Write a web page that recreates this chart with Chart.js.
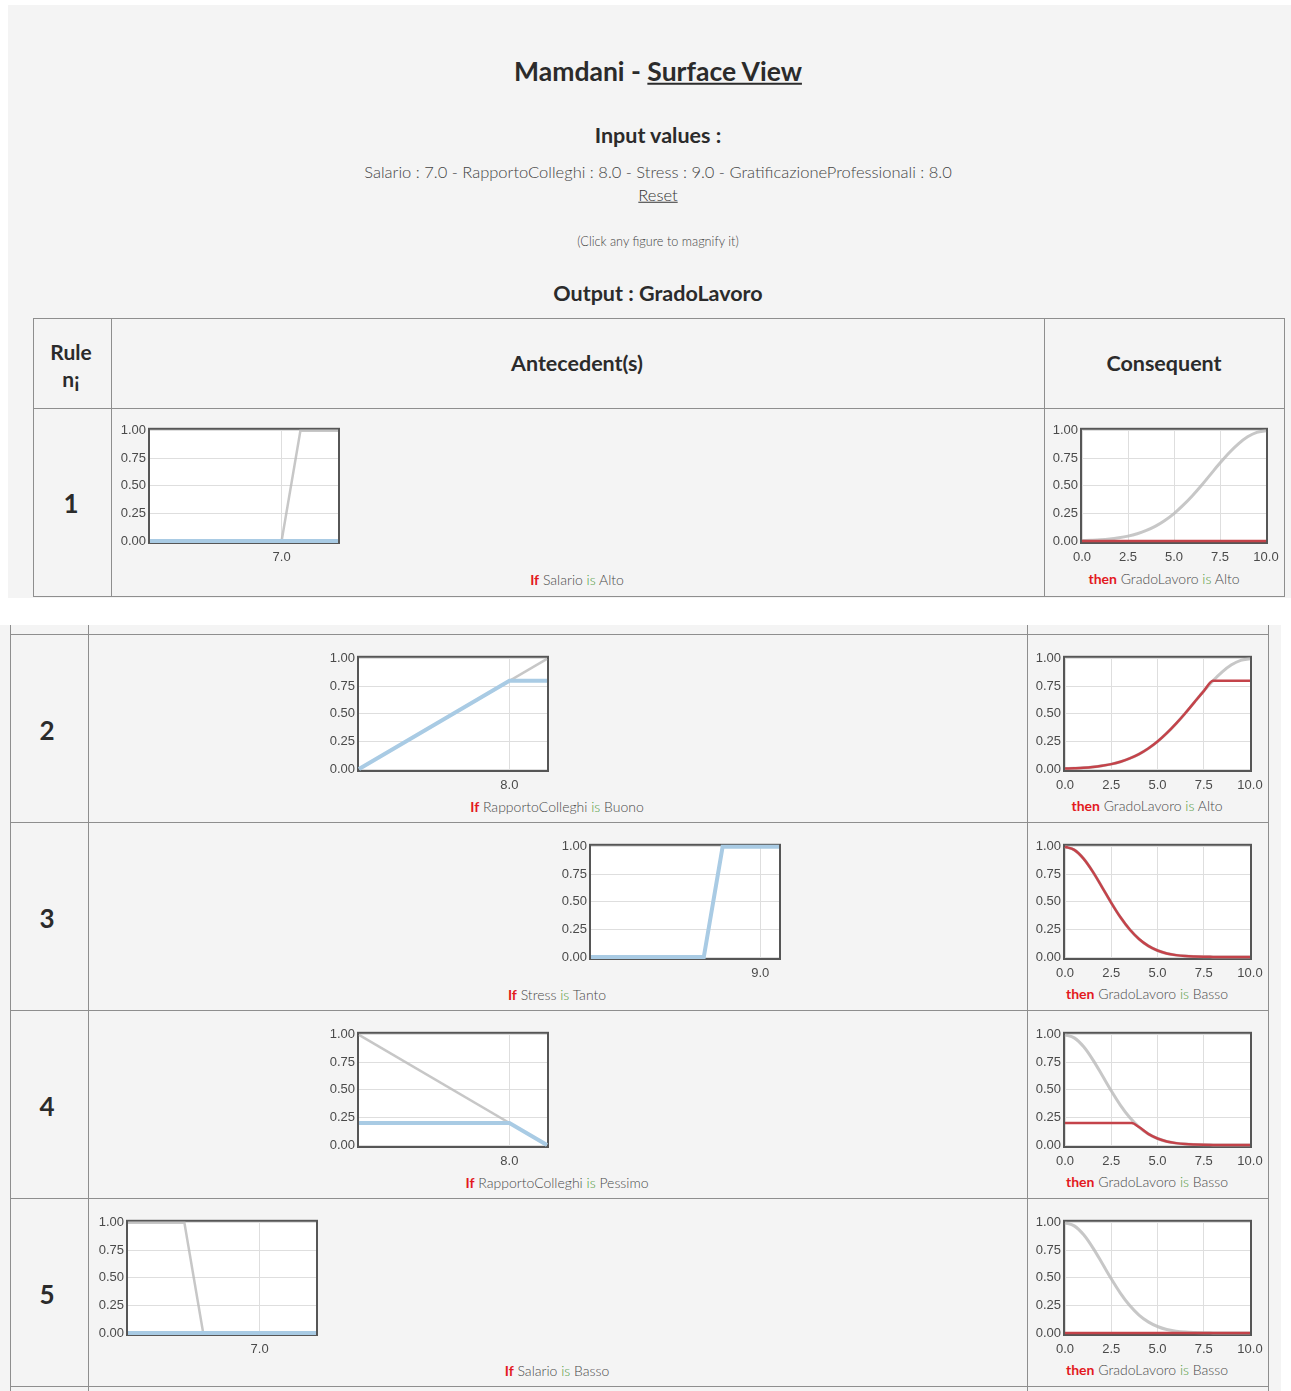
<!DOCTYPE html>
<html>
<head>
<meta charset="utf-8">
<script src="https://cdn.jsdelivr.net/npm/chart.js@4.4.1/dist/chart.umd.min.js"></script>
<style>
  html, body { margin: 0; padding: 0; background: #fff; }
  body { width: 1291px; height: 1391px; position: relative; overflow: hidden;
         font-family: Lato, "Open Sans", sans-serif; color: #333; }
  .panel { position: absolute; background: #f4f4f4; }
  .hl { position: absolute; height: 1px; background: #8e8e8e; }
  .vl { position: absolute; width: 1px; background: #8e8e8e; }
  .t { position: absolute; white-space: nowrap; line-height: 1; transform: translate(-50%, -50%); }
  .cap { font-size: 14px; color: #4a4a4a; font-weight: 300; }
  .cap .k { color: #e3191e; font-weight: 700; }
  .cap .is { color: #4f9a3c; }
  .cw { position: absolute; }
</style>
</head>
<body>
<div class="panel" style="left:8px;top:5px;width:1283px;height:593px"></div>
<div class="panel" style="left:0;top:625px;width:1281px;height:766px"></div>
<div id="page"></div>
<script>
// ---- dati ----
const inputNames = ['Salario', 'RapportoColleghi', 'Stress', 'GratificazioneProfessionali'];
const inputValues = [7.0, 8.0, 9.0, 8.0];

const yTicks = [0, 0.25, 0.5, 0.75, 1];
const consTicks = [0, 2.5, 5, 7.5, 10];

// funzioni di appartenenza degli antecedenti (punti spezzata)
const salarioAltoX = [0, 7, 8, 10],  salarioAltoY = [0, 0, 1, 1];
const salarioBassoX = [0, 3, 4, 10], salarioBassoY = [1, 1, 0, 0];
const buonoX = [0, 10],   buonoY = [0, 1];
const pessimoX = [0, 10], pessimoY = [1, 0];
const tantoX = [0, 6, 7, 10], tantoY = [0, 0, 1, 1];

// attivazioni (linea azzurra)
const act1X = [0, 10],        act1Y = [0, 0];
const act2X = [0, 8, 10],     act2Y = [0, 0.8, 0.8];
const act3X = [0, 6, 7, 10],  act3Y = [0, 0, 1, 1];
const act4X = [0, 8, 10],     act4Y = [0.2, 0.2, 0];
const act5X = [0, 10],        act5Y = [0, 0];

// conseguente GradoLavoro
const consX = [0, 0.5, 1, 1.5, 2, 2.5, 3, 3.5, 4, 4.5, 5, 5.5, 6, 6.5, 7, 7.5, 8, 8.5, 9, 9.5, 10];
const altoY = [0.004, 0.007, 0.011, 0.018, 0.029, 0.044, 0.066, 0.096, 0.135, 0.186, 0.249,
               0.325, 0.411, 0.506, 0.607, 0.707, 0.801, 0.882, 0.946, 0.986, 1.0];
const bassoY = [1.0, 0.972, 0.893, 0.775, 0.635, 0.492, 0.360, 0.249, 0.163, 0.101, 0.059,
                0.032, 0.017, 0.008, 0.004, 0.002, 0.001, 0, 0, 0, 0];

// uscita troncata (linea rossa)
const out1X = [0, 10], out1Y = [0, 0];
const out2X = consX;
const out2Y = [0.004, 0.007, 0.011, 0.018, 0.029, 0.044, 0.066, 0.096, 0.135, 0.186, 0.249,
               0.325, 0.411, 0.506, 0.607, 0.707, 0.8, 0.8, 0.8, 0.8, 0.8];
const out3X = consX;
const out3Y = [1.0, 0.972, 0.893, 0.775, 0.635, 0.492, 0.360, 0.249, 0.163, 0.101, 0.059,
               0.032, 0.017, 0.008, 0.004, 0.002, 0.001, 0, 0, 0, 0];
const out4X = [0, 0.5, 1, 1.5, 2, 2.5, 3, 3.6, 4, 4.5, 5, 5.5, 6, 6.5, 7, 7.5, 8, 10];
const out4Y = [0.2, 0.2, 0.2, 0.2, 0.2, 0.2, 0.2, 0.2, 0.163, 0.101, 0.059,
               0.032, 0.017, 0.008, 0.004, 0.002, 0.001, 0];
const out5X = [0, 10], out5Y = [0, 0];

const ruleVar  = [0, 1, 2, 1, 0];
const ruleTerm = ['Alto', 'Buono', 'Tanto', 'Pessimo', 'Basso'];
const ruleCons = ['Alto', 'Alto', 'Basso', 'Basso', 'Basso'];

// ---- layout ----
const $page = document.getElementById('page');
function el(cls, css, html) {
  const d = document.createElement('div');
  d.className = cls; d.style.cssText = css; d.innerHTML = html || '';
  $page.appendChild(d); return d;
}
const txt = (x, y, html, css) => el('t', `left:${x}px;top:${y}px;${css || ''}`, html);
const hline = (x1, x2, y) => el('hl', `left:${x1}px;top:${y}px;width:${x2 - x1 + 1}px`);
const vline = (x, y1, y2) => el('vl', `left:${x}px;top:${y1}px;height:${y2 - y1}px`);
const BOLD = 'font-weight:700;color:#2b2b2b;';

txt(658, 71, 'Mamdani - <u>Surface View</u>', BOLD + 'font-size:26.5px');
txt(658, 136, 'Input values :', BOLD + 'font-size:21.5px');
txt(658, 172, inputNames.map((n, i) => `${n} : ${inputValues[i].toFixed(1)}`).join(' - '),
    'font-size:16.5px;font-weight:300;color:#444');
txt(658, 195, '<u>Reset</u>', 'font-size:16.5px;font-weight:300;color:#333');
txt(658, 241, '(Click any figure to magnify it)', 'font-size:12.7px;font-weight:300;color:#444');
txt(658, 294, 'Output : GradoLavoro', BOLD + 'font-size:21.5px');

// tabella superiore (header + regola 1)
[33, 111, 1044, 1284].forEach(x => vline(x, 318, 597));
[318, 408, 596].forEach(y => hline(33, 1284, y));
txt(71, 351, 'Rule', BOLD + 'font-size:21px');
txt(71, 378, 'n¡', BOLD + 'font-size:21px');
txt(577, 364, 'Antecedent(s)', BOLD + 'font-size:21.5px');
txt(1164, 364, 'Consequent', BOLD + 'font-size:21.5px');

// tabella inferiore (regole 2-5)
[10, 88, 1027, 1268].forEach(x => vline(x, 625, 1391));
[634, 822, 1010, 1198, 1386].forEach(y => hline(10, 1268, y));

// ---- grafici ----
const frame = {
  id: 'frame',
  beforeDraw(c) {
    const a = c.chartArea, g = c.ctx;
    g.save(); g.fillStyle = '#fff';
    g.fillRect(a.left - 1, a.top - 2, a.width + 2, a.height + 4); g.restore();
  },
  beforeDatasetsDraw(c) {
    const a = c.chartArea, g = c.ctx;
    g.save(); g.strokeStyle = '#565656'; g.lineWidth = 2;
    g.strokeRect(a.left - 1, a.top - 2, a.width + 2, a.height + 4); g.restore();
  }
};
const tickFont = { family: '"Liberation Sans", Arial, sans-serif', size: 13 };
const pts = (xs, ys) => xs.map((x, i) => ({ x, y: ys[i] }));

function plot(l, r, t, b, sets, xTicks) {
  const PL = 40, PT = 8, PR = 26, PB = 26;
  const w = r - l + PL + PR, h = b - t + PT + PB;
  const wrap = el('cw', `left:${l - PL}px;top:${t - PT}px;width:${w}px;height:${h}px`);
  const cv = document.createElement('canvas');
  wrap.appendChild(cv);
  new Chart(cv, {
    type: 'line',
    data: { datasets: sets },
    options: {
      responsive: true, maintainAspectRatio: false, animation: false,
      layout: { padding: { top: PT, right: PR, left: 0, bottom: 0 } },
      plugins: { legend: { display: false }, tooltip: { enabled: false } },
      elements: { point: { radius: 0 } },
      scales: {
        x: {
          type: 'linear', min: 0, max: 10,
          afterFit: s => { s.height = PB; },
          afterBuildTicks: s => { s.ticks = xTicks.map(v => ({ value: v })); },
          ticks: { padding: 9, font: tickFont, color: '#4a4a4a', maxRotation: 0, autoSkip: false,
                   callback: v => Number(v).toFixed(1) },
          grid: { color: '#dedede', drawTicks: false }, border: { display: false }
        },
        y: {
          min: 0, max: 1,
          afterFit: s => { s.width = PL; },
          afterBuildTicks: s => { s.ticks = yTicks.map(v => ({ value: v })); },
          ticks: { padding: 4, font: tickFont, color: '#4a4a4a', callback: v => Number(v).toFixed(2) },
          grid: { color: '#dedede', drawTicks: false }, border: { display: false }
        }
      }
    },
    plugins: [frame]
  });
}

const GREY = 'rgba(185,185,185,0.8)', BLUE = '#a9cbe4', RED = '#c4434a';
const ante = (ax, ay, mx, my) => [
  { data: pts(ax, ay), borderColor: BLUE, borderWidth: 4, clip: 6 },
  { data: pts(mx, my), borderColor: GREY, borderWidth: 2.5, clip: 6 }
];
const cons = (ox, oy, my) => [
  { data: pts(ox, oy), borderColor: RED, borderWidth: 2.5, cubicInterpolationMode: 'monotone', clip: 6 },
  { data: pts(consX, my), borderColor: GREY, borderWidth: 3, cubicInterpolationMode: 'monotone', clip: 6 }
];

function caption(x, y, pre, name, term) {
  txt(x, y, `<span class="k">${pre}</span> ${name} <span class="is">is</span> ${term}`, '').classList.add('cap');
}

// regola 1 (parte superiore)
txt(71, 503, '1', BOLD + 'font-size:26px');
plot(150, 338, 427, 541, ante(act1X, act1Y, salarioAltoX, salarioAltoY), [inputValues[0]]);
plot(1082, 1266, 427, 541, cons(out1X, out1Y, altoY), consTicks);
caption(577, 580, 'If', inputNames[ruleVar[0]], ruleTerm[0]);
caption(1164, 579, 'then', 'GradoLavoro', ruleCons[0]);

// regole 2-5 (parte inferiore)
const anteBox = [[359, 547], [591, 779], [359, 547], [128, 316]];
const anteSets = [
  ante(act2X, act2Y, buonoX, buonoY),
  ante(act3X, act3Y, tantoX, tantoY),
  ante(act4X, act4Y, pessimoX, pessimoY),
  ante(act5X, act5Y, salarioBassoX, salarioBassoY)
];
const consSets = [
  cons(out2X, out2Y, altoY),
  cons(out3X, out3Y, bassoY),
  cons(out4X, out4Y, bassoY),
  cons(out5X, out5Y, bassoY)
];
for (let k = 0; k < 4; k++) {
  const top = 634 + k * 188;
  const ri = k + 1;
  txt(47, top + 96, String(ri + 1), BOLD + 'font-size:26px');
  plot(anteBox[k][0], anteBox[k][1], top + 21, top + 135, anteSets[k], [inputValues[ruleVar[ri]]]);
  plot(1065, 1250, top + 21, top + 135, consSets[k], consTicks);
  caption(557, top + 173, 'If', inputNames[ruleVar[ri]], ruleTerm[ri]);
  caption(1147, top + 172, 'then', 'GradoLavoro', ruleCons[ri]);
}
</script>
</body>
</html>
